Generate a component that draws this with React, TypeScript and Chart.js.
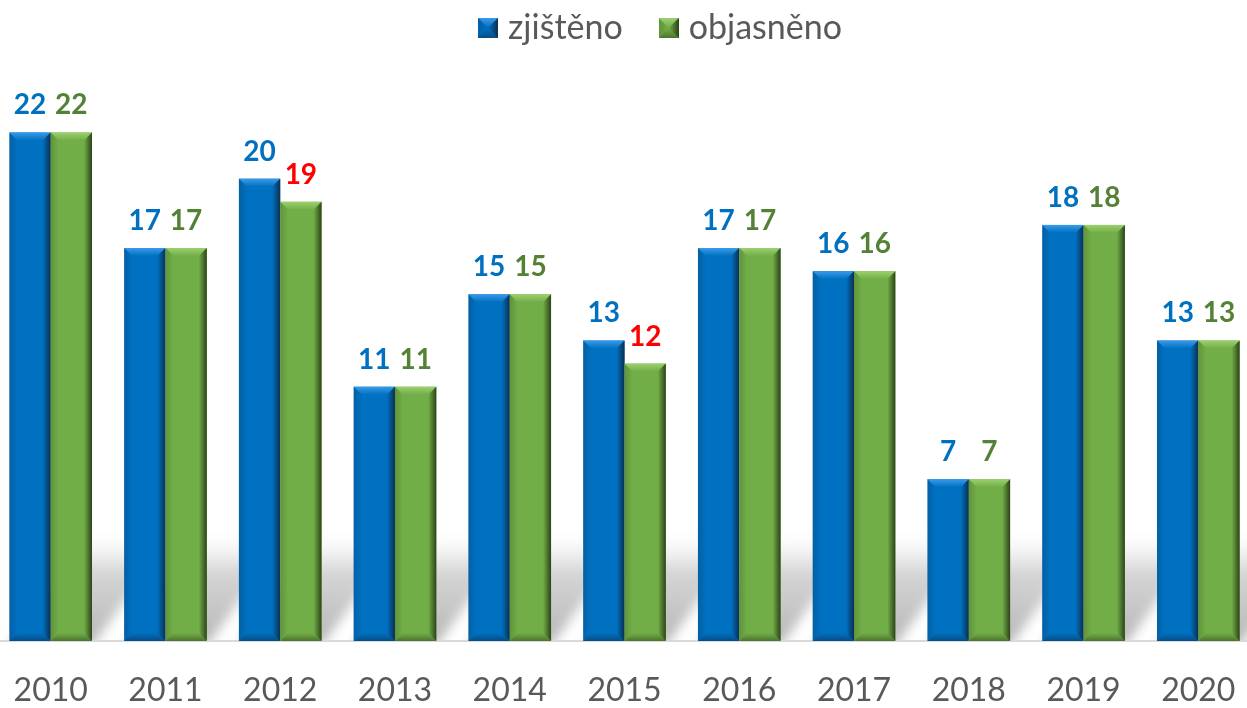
import React, { useEffect, useRef } from 'react';
import { Chart, registerables } from 'chart.js';

Chart.register(...registerables);

const years = ['2010', '2011', '2012', '2013', '2014', '2015', '2016', '2017', '2018', '2019', '2020'];
const zjisteno = [22, 17, 20, 11, 15, 13, 17, 16, 7, 18, 13];
const objasneno = [22, 17, 19, 11, 15, 12, 17, 16, 7, 18, 13];
const seriesNames = ['zjištěno', 'objasněno'];

const BLUE = '#0070C0';
const GREEN = '#72AE48';
const BLUE_LIGHT = '#3A9BEA';
const GREEN_LIGHT = '#9CD06E';
const BLUE_DARK = '#0B2F52';
const GREEN_DARK = '#2C4418';
const LABEL_BLUE = '#0070C0';
const LABEL_GREEN = '#548235';
const LABEL_RED = '#FF0000';

const CANVAS_W = 1281;
const CANVAS_H = 708;
const CANVAS_LEFT = -16;
const LEGEND_SHIFT = 39;

function drawBevel(ctx: CanvasRenderingContext2D, left: number, right: number, top: number, bottom: number, base: string, light: string, dark: string, b: number) {
  ctx.save();
  ctx.fillStyle = base;
  ctx.fillRect(left, top, right - left, bottom - top);
  let g = ctx.createLinearGradient(0, top, 0, top + b);
  g.addColorStop(0, light);
  g.addColorStop(1, base);
  ctx.fillStyle = g;
  ctx.beginPath();
  ctx.moveTo(left, top);
  ctx.lineTo(right, top);
  ctx.lineTo(right - b, top + b);
  ctx.lineTo(left + b, top + b);
  ctx.closePath();
  ctx.fill();
  g = ctx.createLinearGradient(0, bottom - b, 0, bottom);
  g.addColorStop(0, base);
  g.addColorStop(1, dark);
  ctx.fillStyle = g;
  ctx.globalAlpha = 0.55;
  ctx.beginPath();
  ctx.moveTo(left, bottom);
  ctx.lineTo(right, bottom);
  ctx.lineTo(right - b, bottom - b);
  ctx.lineTo(left + b, bottom - b);
  ctx.closePath();
  ctx.fill();
  ctx.globalAlpha = 1;
  g = ctx.createLinearGradient(right - b, 0, right, 0);
  g.addColorStop(0, base);
  g.addColorStop(1, dark);
  ctx.fillStyle = g;
  ctx.beginPath();
  ctx.moveTo(right, top);
  ctx.lineTo(right, bottom);
  ctx.lineTo(right - b, bottom - b);
  ctx.lineTo(right - b, top + b);
  ctx.closePath();
  ctx.fill();
  g = ctx.createLinearGradient(left, 0, left + b, 0);
  g.addColorStop(0, dark);
  g.addColorStop(1, base);
  ctx.fillStyle = g;
  ctx.globalAlpha = 0.25;
  ctx.beginPath();
  ctx.moveTo(left, top);
  ctx.lineTo(left, bottom);
  ctx.lineTo(left + b, bottom - b);
  ctx.lineTo(left + b, top + b);
  ctx.closePath();
  ctx.fill();
  ctx.restore();
}

function legendIcon(base: string, light: string, dark: string) {
  const c = document.createElement('canvas');
  c.width = 20;
  c.height = 20;
  const ctx = c.getContext('2d')!;
  drawBevel(ctx, 0, 20, 0, 20, base, light, dark, 10);
  return c;
}

const legendShiftPlugin = {
  id: 'legendShift',
  afterLayout(chart: any) {
    if (chart.legend) {
      chart.legend.left += LEGEND_SHIFT;
      chart.legend.right += LEGEND_SHIFT;
    }
  },
};

const shadowPlugin = {
  id: 'pairShadow',
  beforeDatasetsDraw(chart: any) {
    const ctx = chart.ctx as CanvasRenderingContext2D;
    const m0 = chart.getDatasetMeta(0);
    const m1 = chart.getDatasetMeta(1);
    const area = chart.chartArea;
    ctx.save();
    ctx.beginPath();
    ctx.rect(area.left - 20, area.top, area.right - area.left + 40, area.bottom - area.top - 1);
    ctx.clip();
    ctx.filter = 'blur(6px)';
    m0.data.forEach((b0: any, i: number) => {
      const b1 = m1.data[i];
      const left = b0.x - b0.width / 2;
      const right = b1.x + b1.width / 2;
      const base = b0.base;
      const H = Math.min(105, (base - b0.y) * 0.9);
      const dx = 80;
      const g = ctx.createLinearGradient(0, base, 0, base - H);
      g.addColorStop(0, 'rgba(175,175,175,0.9)');
      g.addColorStop(0.65, 'rgba(195,195,195,0.7)');
      g.addColorStop(1, 'rgba(225,225,225,0)');
      ctx.fillStyle = g;
      ctx.beginPath();
      ctx.moveTo(left, base + 5);
      ctx.lineTo(right, base + 5);
      ctx.lineTo(right + dx, base - H);
      ctx.lineTo(left + dx, base - H);
      ctx.closePath();
      ctx.fill();
    });
    ctx.restore();
  },
};

const bevelPlugin = {
  id: 'bevelBars',
  afterDatasetsDraw(chart: any) {
    const ctx = chart.ctx as CanvasRenderingContext2D;
    const styles = [
      [BLUE, BLUE_LIGHT, BLUE_DARK],
      [GREEN, GREEN_LIGHT, GREEN_DARK],
    ];
    [0, 1].forEach((d) => {
      const meta = chart.getDatasetMeta(d);
      meta.data.forEach((bar: any) => {
        const left = bar.x - bar.width / 2;
        const right = bar.x + bar.width / 2;
        drawBevel(ctx, left, right, bar.y, bar.base, styles[d][0], styles[d][1], styles[d][2], 8);
      });
    });
  },
};

const valueLabelPlugin = {
  id: 'valueLabels',
  afterDatasetsDraw(chart: any) {
    const ctx = chart.ctx as CanvasRenderingContext2D;
    ctx.save();
    ctx.font = 'bold 28px Lato';
    ctx.textAlign = 'center';
    ctx.textBaseline = 'alphabetic';
    [0, 1].forEach((d) => {
      const meta = chart.getDatasetMeta(d);
      const values = chart.data.datasets[d].data as number[];
      meta.data.forEach((bar: any, i: number) => {
        let color = d === 0 ? LABEL_BLUE : LABEL_GREEN;
        if (d === 1 && objasneno[i] < zjisteno[i]) color = LABEL_RED;
        ctx.fillStyle = color;
        ctx.fillText(String(values[i]), bar.x, bar.y - 18);
      });
    });
    ctx.restore();
  },
};

export default function App() {
  const canvasRef = useRef<HTMLCanvasElement>(null);

  useEffect(() => {
    document.body.style.margin = '0';
    const chart = new Chart(canvasRef.current!, {
      type: 'bar',
      data: {
        labels: years,
        datasets: [
          {
            label: seriesNames[0],
            data: zjisteno,
            backgroundColor: 'rgba(0,0,0,0)',
            pointStyle: legendIcon(BLUE, BLUE_LIGHT, BLUE_DARK) as any,
            categoryPercentage: 0.72,
            barPercentage: 1.0,
          },
          {
            label: seriesNames[1],
            data: objasneno,
            backgroundColor: 'rgba(0,0,0,0)',
            pointStyle: legendIcon(GREEN, GREEN_LIGHT, GREEN_DARK) as any,
            categoryPercentage: 0.72,
            barPercentage: 1.0,
          },
        ],
      },
      options: {
        animation: false,
        responsive: false,
        maintainAspectRatio: false,
        devicePixelRatio: 1,
        layout: { padding: { top: -32, bottom: 0, left: 0, right: 0 } },
        plugins: {
          legend: {
            display: true,
            position: 'top',
            labels: {
              usePointStyle: true,
              pointStyleWidth: 6,
              font: { family: 'Lato', size: 34 },
              color: '#595959',
              padding: 43,
            },
          },
          tooltip: { enabled: false },
        },
        scales: {
          x: {
            grid: { display: false, drawTicks: false },
            border: { display: true, color: '#D9D9D9', width: 2 },
            ticks: {
              color: '#595959',
              font: { family: 'Lato', size: 32 },
              padding: 30,
            },
            afterFit: (scale: any) => {
              scale.height = 67;
            },
          },
          y: {
            display: false,
            min: 0,
            max: 25.35,
          },
        },
      },
      plugins: [legendShiftPlugin, shadowPlugin, bevelPlugin, valueLabelPlugin],
    });
    return () => chart.destroy();
  }, []);

  return (
    <div style={{ position: 'fixed', left: 0, top: 0, width: 1247, height: 708, overflow: 'hidden', background: '#fff' }}>
      <canvas
        ref={canvasRef}
        width={CANVAS_W}
        height={CANVAS_H}
        style={{ position: 'absolute', left: CANVAS_LEFT, top: 0, width: CANVAS_W, height: CANVAS_H }}
      />
    </div>
  );
}
